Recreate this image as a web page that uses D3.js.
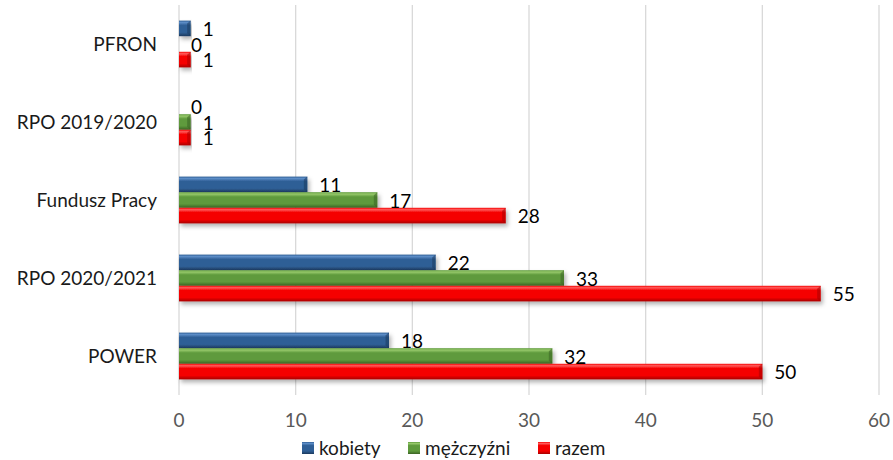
<!DOCTYPE html>
<html>
<head>
<meta charset="utf-8">
<script src="https://cdn.jsdelivr.net/npm/d3@7"></script>
<style>
  body { margin: 0; background: #fff; }
  svg { display: block; font-family: Lato, "Open Sans", sans-serif; }
</style>
</head>
<body>
<svg width="893" height="460"></svg>
<script>
const categories = ["PFRON", "RPO 2019/2020", "Fundusz Pracy", "RPO 2020/2021", "POWER"];
const seriesNames = ["kobiety", "mężczyźni", "razem"];
const kobiety = [1, 0, 11, 22, 18];
const mezczyzni = [0, 1, 17, 33, 32];
const razem = [1, 1, 28, 55, 50];
const xTicks = [0, 10, 20, 30, 40, 50, 60];

const colors = {
  kobiety: { light: "#5b8cc6", main: "#2f5f96", dark: "#1c3a5e" },
  "mężczyźni": { light: "#96c86a", main: "#5e9a3c", dark: "#3b6324" },
  razem: { light: "#ff5a5a", main: "#f50000", dark: "#a80000" },
};

const svg = d3.select("svg");
const margin = { top: 5, right: 14, bottom: 65, left: 179 };
const width = +svg.attr("width");
const height = +svg.attr("height");
const innerWidth = width - margin.left - margin.right;
const innerHeight = height - margin.top - margin.bottom;

const defs = svg.append("defs");
defs.append("filter")
  .attr("id", "shadow")
  .attr("x", "-5%").attr("y", "-30%")
  .attr("width", "115%").attr("height", "190%")
  .append("feDropShadow")
  .attr("dx", 2).attr("dy", 3)
  .attr("stdDeviation", 2)
  .attr("flood-color", "#000")
  .attr("flood-opacity", 0.3);

seriesNames.forEach((s, i) => {
  const c = colors[s];
  const grad = defs.append("linearGradient")
    .attr("id", "grad" + i)
    .attr("x1", 0).attr("y1", 0).attr("x2", 0).attr("y2", 1);
  grad.append("stop").attr("offset", "0%").attr("stop-color", c.main);
  grad.append("stop").attr("offset", "12%").attr("stop-color", c.light);
  grad.append("stop").attr("offset", "30%").attr("stop-color", c.main);
  grad.append("stop").attr("offset", "75%").attr("stop-color", c.main);
  grad.append("stop").attr("offset", "100%").attr("stop-color", c.dark);
});

const g = svg.append("g")
  .attr("transform", `translate(${margin.left},${margin.top})`);

// 0..60 spans from x=179 to x=879
const x = d3.scaleLinear().domain([0, 60]).range([0, 700]);

const y = d3.scaleBand()
  .domain(categories)
  .range([0, innerHeight])
  .paddingInner(0.4)
  .paddingOuter(0.2);

const ySub = d3.scaleBand()
  .domain(seriesNames)
  .range([0, y.bandwidth()]);

// gridlines
g.append("g")
  .selectAll("line")
  .data(xTicks)
  .join("line")
  .attr("x1", (d) => x(d))
  .attr("x2", (d) => x(d))
  .attr("y1", 0)
  .attr("y2", innerHeight)
  .attr("stroke", "#d9d9d9")
  .attr("stroke-width", 1.3);

// x tick labels
g.append("g")
  .selectAll("text")
  .data(xTicks)
  .join("text")
  .attr("x", (d) => x(d))
  .attr("y", innerHeight + 25)
  .attr("dy", "0.35em")
  .attr("text-anchor", "middle")
  .attr("font-size", 19)
  .attr("fill", "#595959")
  .text((d) => d);

// category labels
g.append("g")
  .selectAll("text")
  .data(categories)
  .join("text")
  .attr("x", -22)
  .attr("y", (d) => y(d) + y.bandwidth() / 2)
  .attr("dy", "0.35em")
  .attr("text-anchor", "end")
  .attr("font-size", 19)
  .attr("fill", "#1a1a1a")
  .text((d) => d);

const rows = [];
categories.forEach((cat, i) => {
  rows.push({ cat, s: "kobiety", si: 0, v: kobiety[i] });
  rows.push({ cat, s: "mężczyźni", si: 1, v: mezczyzni[i] });
  rows.push({ cat, s: "razem", si: 2, v: razem[i] });
});

const bars = g.append("g")
  .selectAll("g")
  .data(rows.filter((d) => d.v > 0))
  .join("g")
  .attr("filter", "url(#shadow)");

const bh = ySub.bandwidth();
bars.append("rect")
  .attr("x", 0)
  .attr("y", (d) => y(d.cat) + ySub(d.s))
  .attr("width", (d) => x(d.v))
  .attr("height", bh)
  .attr("fill", (d) => `url(#grad${d.si})`);

// bevel at bar end
bars.append("path")
  .attr("d", (d) => {
    const x1 = x(d.v);
    const y0 = y(d.cat) + ySub(d.s);
    const b = Math.min(3.5, x1 / 3);
    return `M${x1 - b},${y0 + 3} L${x1},${y0} L${x1},${y0 + bh} L${x1 - b},${y0 + bh - 3} Z`;
  })
  .attr("fill", (d) => colors[d.s].dark)
  .attr("opacity", 0.55);

// value labels
g.append("g")
  .selectAll("text")
  .data(rows)
  .join("text")
  .attr("x", (d) => x(d.v) + 12)
  .attr("y", (d) => y(d.cat) + ySub(d.s) + bh / 2 + 1)
  .attr("dy", "0.35em")
  .attr("font-size", 19)
  .attr("fill", "#000")
  .text((d) => d.v);

// legend
const legend = svg.append("g")
  .attr("transform", `translate(302,448)`);
const legX = [0, 106, 236];
seriesNames.forEach((s, i) => {
  const item = legend.append("g").attr("transform", `translate(${legX[i]},0)`);
  item.append("rect")
    .attr("x", 0).attr("y", -6)
    .attr("width", 12).attr("height", 12)
    .attr("fill", `url(#grad${i})`);
  item.append("text")
    .attr("x", 17)
    .attr("y", 0)
    .attr("dy", "0.35em")
    .attr("font-size", 19)
    .attr("fill", "#1a1a1a")
    .text(s);
});
</script>
</body>
</html>
